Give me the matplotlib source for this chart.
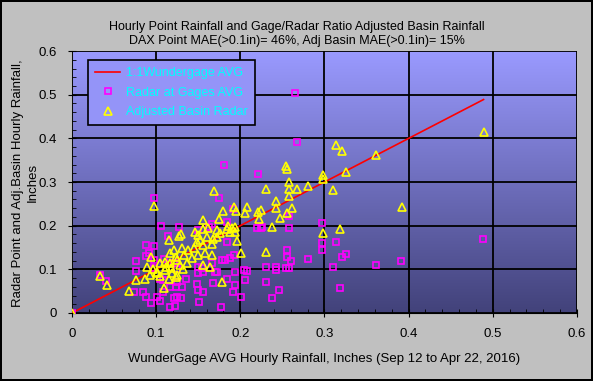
import numpy as np
import matplotlib
matplotlib.use('Agg')
import matplotlib.pyplot as plt
from matplotlib.ticker import MultipleLocator

plt.rcParams['font.family'] = ['Liberation Sans', 'DejaVu Sans']

# Adjusted basin radar (x = WunderGage avg, y = adjusted radar)
adj_x = [0, 0.033, 0.042, 0.068, 0.076, 0.087, 0.093, 0.089, 0.094, 0.101, 0.098,
         0.096, 0.101, 0.105, 0.109, 0.110, 0.111, 0.115, 0.115, 0.117, 0.117, 0.119,
         0.121, 0.123, 0.123, 0.125, 0.125, 0.127, 0.129, 0.131, 0.133, 0.137, 0.142,
         0.148, 0.150, 0.152, 0.156, 0.156, 0.156, 0.156, 0.158, 0.162, 0.164, 0.166,
         0.166, 0.169, 0.172, 0.175, 0.176, 0.178, 0.180, 0.184, 0.190, 0.192, 0.194,
         0.195, 0.194, 0.196, 0.201, 0.205, 0.208, 0.221, 0.222, 0.224, 0.231, 0.231,
         0.238, 0.242, 0.242, 0.247, 0.254, 0.256, 0.256, 0.258, 0.258, 0.258, 0.261,
         0.267, 0.281, 0.298, 0.298, 0.298, 0.310, 0.314, 0.318, 0.321, 0.325, 0.361,
         0.392, 0.489,
         0.105, 0.112, 0.118, 0.128, 0.132, 0.138, 0.145, 0.160, 0.168, 0.172, 0.185,
         0.188, 0.146, 0.150]
adj_y = [0, 0.084, 0.063, 0.050, 0.075, 0.079, 0.087, 0.105, 0.129, 0.091, 0.246,
         0.100, 0.095, 0.114, 0.057, 0.117, 0.098, 0.079, 0.168, 0.114, 0.137, 0.091,
         0.144, 0.129, 0.083, 0.121, 0.087, 0.176, 0.180, 0.148, 0.133, 0.114, 0.125,
         0.163, 0.133, 0.167, 0.156, 0.110, 0.192, 0.214, 0.137, 0.194, 0.105, 0.158,
         0.133, 0.279, 0.190, 0.216, 0.183, 0.072, 0.234, 0.192, 0.194, 0.243, 0.186,
         0.234, 0.196, 0.166, 0.137, 0.228, 0.242, 0.232, 0.215, 0.236, 0.284, 0.140,
         0.198, 0.257, 0.241, 0.218, 0.337, 0.329, 0.230, 0.299, 0.285, 0.269, 0.241,
         0.285, 0.292, 0.316, 0.308, 0.184, 0.282, 0.385, 0.193, 0.371, 0.322, 0.361,
         0.242, 0.415,
         0.085, 0.105, 0.102, 0.110, 0.100, 0.145, 0.150, 0.175, 0.170, 0.175, 0.200,
         0.185, 0.185, 0.178]

# Radar at gages avg
rad_x = [0, 0.033, 0.041, 0.074, 0.076, 0.076, 0.084, 0.088, 0.088, 0.088, 0.091,
         0.094, 0.098, 0.098, 0.098, 0.098, 0.101, 0.105, 0.105, 0.106, 0.108, 0.108,
         0.109, 0.114, 0.117, 0.117, 0.121, 0.121, 0.122, 0.123, 0.125, 0.125, 0.125,
         0.127, 0.129, 0.131, 0.136, 0.148, 0.150, 0.150, 0.150, 0.150, 0.151, 0.155,
         0.156, 0.156, 0.163, 0.166, 0.166, 0.168, 0.170, 0.172, 0.175, 0.177, 0.178,
         0.181, 0.182, 0.184, 0.184, 0.184, 0.188, 0.191, 0.191, 0.192, 0.194, 0.194,
         0.201, 0.204, 0.208, 0.205, 0.220, 0.221, 0.224, 0.226, 0.231, 0.231, 0.238,
         0.242, 0.242, 0.246, 0.254, 0.256, 0.256, 0.258, 0.258, 0.258, 0.260, 0.265,
         0.267, 0.281, 0.297, 0.297, 0.297, 0.310, 0.314, 0.318, 0.321, 0.325, 0.361,
         0.391, 0.488]
rad_y = [0, 0.087, 0.074, 0.049, 0.118, 0.097, 0.049, 0.156, 0.131, 0.036, 0.138,
         0.022, 0.264, 0.153, 0.121, 0.102, 0.036, 0.028, 0.079, 0.199, 0.049, 0.076,
         0.123, 0.176, 0.013, 0.060, 0.114, 0.034, 0.015, 0.059, 0.100, 0.072, 0.036,
         0.198, 0.034, 0.059, 0.077, 0.067, 0.190, 0.106, 0.091, 0.053, 0.026, 0.102,
         0.095, 0.048, 0.198, 0.115, 0.204, 0.069, 0.095, 0.095, 0.264, 0.014, 0.121,
         0.340, 0.121, 0.209, 0.163, 0.077, 0.125, 0.238, 0.049, 0.133, 0.095, 0.064,
         0.037, 0.098, 0.097, 0.076, 0.194, 0.319, 0.194, 0.198, 0.106, 0.072, 0.035,
         0.106, 0.098, 0.053, 0.104, 0.145, 0.129, 0.222, 0.194, 0.104, 0.120, 0.504,
         0.392, 0.124, 0.207, 0.161, 0.145, 0.106, 0.163, 0.058, 0.129, 0.136, 0.111,
         0.120, 0.170]

ticks = [0, 0.1, 0.2, 0.3, 0.4, 0.5, 0.6]
tick_labels = ['0', '0.1', '0.2', '0.3', '0.4', '0.5', '0.6']

title = ('Hourly Point Rainfall and Gage/Radar Ratio Adjusted Basin Rainfall\n'
         'DAX Point MAE(>0.1in)= 46%, Adj Basin MAE(>0.1in)= 15%')
xlab = 'WunderGage AVG Hourly Rainfall, Inches (Sep 12 to Apr 22, 2016)'
ylab = 'Radar Point and Adj.Basin Hourly Rainfall,\nInches'

fig = plt.figure(figsize=(5.93, 3.81), dpi=100, facecolor='#c0c0c0',
                 edgecolor='black', linewidth=1.5)
ax = fig.add_axes([0.1214, 0.1785, 0.8516, 0.6875])

# gradient background, light on top
grad = np.linspace(0, 1, 256).reshape(-1, 1)
cmap = matplotlib.colors.LinearSegmentedColormap.from_list('bg', ['#9a9aff', '#42427a'])
ax.imshow(grad, aspect='auto', cmap=cmap, extent=[0, 0.6, 0, 0.6],
          origin='upper', zorder=0)

line_x = sorted(adj_x)
ax.plot(line_x, line_x, color='red', lw=1.2, label='1:1Wundergage AVG', zorder=3)
ax.plot(rad_x, rad_y, ls='none', marker='s', ms=4.6, mfc='none', mec='#ff00ff',
        mew=1.2, label='Radar at Gages AVG', zorder=4)
ax.plot(adj_x, adj_y, ls='none', marker='^', ms=5.6, mfc='none', mec='#ffff00',
        mew=1.2, label='Adjusted Basin Radar', zorder=5)

ax.set_xlim(0, 0.6)
ax.set_ylim(0, 0.6)
ax.set_xticks(ticks, tick_labels)
ax.set_yticks(ticks, tick_labels)
ax.xaxis.set_minor_locator(MultipleLocator(0.02))
ax.yaxis.set_minor_locator(MultipleLocator(0.02))
ax.grid(True, which='major', color='black', lw=1.3, zorder=1)
ax.set_axisbelow(False)
ax.tick_params(which='major', direction='inout', length=6, labelsize=9.5, pad=8)
ax.tick_params(which='minor', direction='in', length=3)
for s in ['top', 'right']:
    ax.spines[s].set_visible(False)
ax.spines['left'].set_color('#808080')
ax.spines['bottom'].set_color('black')

fig.text(0.5, 0.91, title, ha='center', va='center', fontsize=9, linespacing=1.25)
ax.set_xlabel(xlab, fontsize=9.5, labelpad=9)
fig.text(0.043, 0.52, ylab, rotation=90, ha='center', va='center', fontsize=9.5,
         linespacing=1.3)

leg = ax.legend(loc='upper left', bbox_to_anchor=(0.032, 0.965), borderaxespad=0,
                frameon=True, fancybox=False, framealpha=1, facecolor='#9494f8',
                edgecolor='black', fontsize=9, labelcolor='#00ffff',
                handlelength=2.0, handletextpad=0.5, borderpad=0.55,
                labelspacing=0.6)
leg.get_frame().set_linewidth(1.2)
leg.set_zorder(10)

fig.savefig('out.png', dpi=100, facecolor=fig.get_facecolor(), edgecolor='black')
